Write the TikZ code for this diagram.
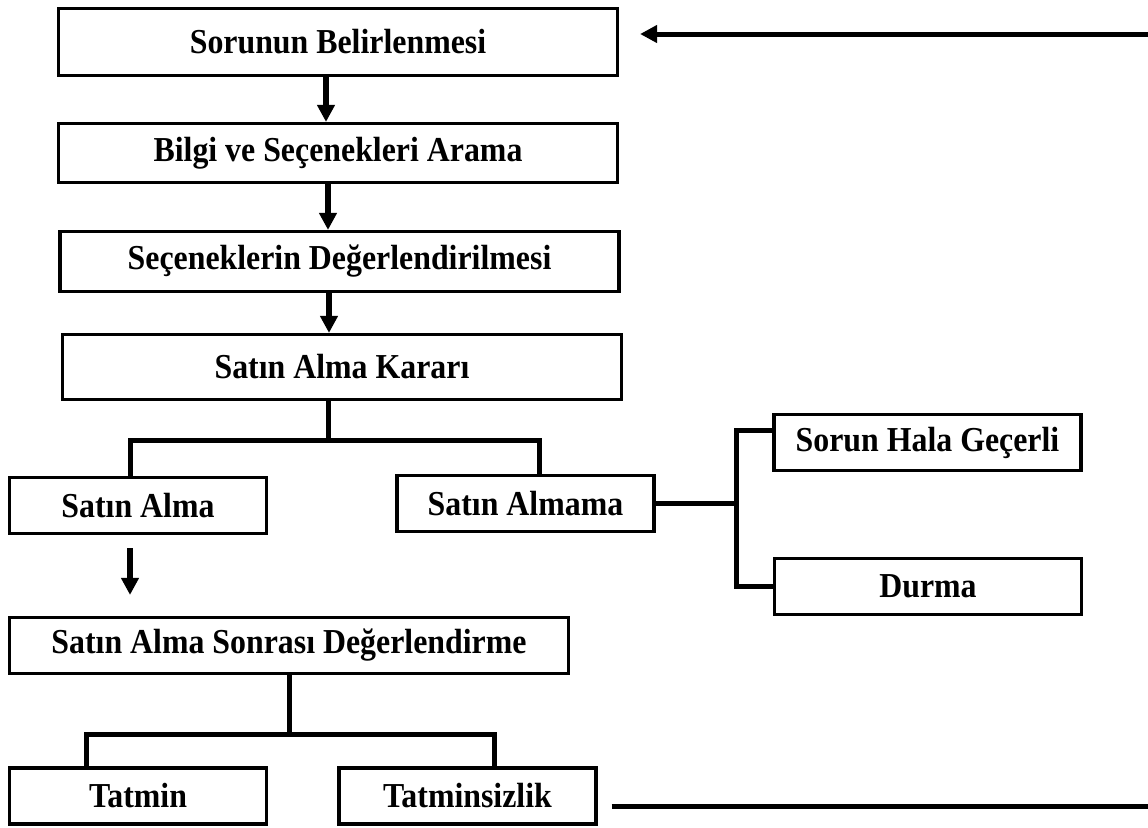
\documentclass[tikz,border=0pt]{standalone}
\usepackage{fontspec}
\setmainfont{Liberation Serif}[FakeStretch=0.91]
\usepackage{tikz}
\usetikzlibrary{arrows.meta}
\tikzset{box/.style={draw,line width=1.6pt,inner sep=0pt,font=\fontsize{17.5}{17.5}\selectfont\bfseries}}
\tikzset{wide/.style={box,minimum width=279.5pt}}
\tikzset{short/.style={box,minimum width=128.5pt,minimum height=28pt}}
\tikzset{side/.style={box,minimum width=153.5pt,minimum height=28pt}}
\tikzset{link/.style={line width=2.5pt}}
\tikzset{arr/.style={line width=3pt,-{Triangle[length=8.5pt,width=8.5pt]}}}

\begin{document}
\begin{tikzpicture}[x=0.5pt,y=-0.5pt]
  \useasboundingbox (0,0) rectangle (1148,827);
  % main column
  \node[wide,minimum height=33.5pt] (A) at (338,42) {Sorunun Belirlenmesi};
  \node[wide,minimum height=29.5pt] (B) at (338,153) {Bilgi ve Seçenekleri Arama};
  \node[wide,minimum height=30pt] (C) at (339.5,261.5) {Seçeneklerin Değerlendirilmesi};
  \node[wide,minimum height=32.5pt] (D) at (342,367) {Satın Alma Kararı};
  \node[short] (E) at (138,505.5) {Satın Alma};
  \node[short] (F) at (525.5,503.5) {Satın Almama};
  \node[side] (G) at (927.5,442.5) {Sorun Hala Geçerli};
  \node[side] (H) at (928,586.5) {Durma};
  \node[wide,minimum height=28pt] (I) at (289,645.5) {Satın Alma Sonrası Değerlendirme};
  \node[short] (J) at (138,796) {Tatmin};
  \node[short] (K) at (467.5,796) {Tatminsizlik};
  % split points and free ends
  \coordinate (s1) at (328,440);
  \coordinate (s2) at (736,503.5);
  \coordinate (s3) at (289,734);
  \coordinate (r1) at (1148,34);
  \coordinate (r2) at (1148,806);
  % arrows down
  \draw[arr] ([xshift=-6pt]A.south) -- ([xshift=-6pt]A.south |- B.north);
  \draw[arr] ([xshift=-5pt]B.south) -- ([xshift=-5pt]B.south |- C.north);
  \draw[arr] ([xshift=-5.25pt]C.south) -- ([xshift=-5.25pt]C.south |- D.north);
  \draw[arr,shorten <=6.5pt,shorten >=10.5pt] ([xshift=-4pt]E.south) -- ([xshift=-4pt]E.south |- I.north);
  % branches
  \draw[link] (D.south -| s1) -- (s1);
  \draw[link] ([xshift=-4pt]E.north) |- (s1) -| ([xshift=6.75pt]F.north);
  \draw[link] (F.east) -- (s2);
  \draw[link] ([yshift=6.25pt]G.west) -| (s2) |- (H.west);
  \draw[link] (I.south) -- (s3);
  \draw[link] ([xshift=-26pt]J.north) |- (s3) -| ([xshift=13.25pt]K.north);
  % loop back
  \draw[arr,line width=2.5pt,shorten >=10.5pt] (r1) -- ([yshift=4pt]A.east);
  \draw[link,shorten <=7pt] ([yshift=-5pt]K.east) -- (r2);
\end{tikzpicture}
\end{document}
